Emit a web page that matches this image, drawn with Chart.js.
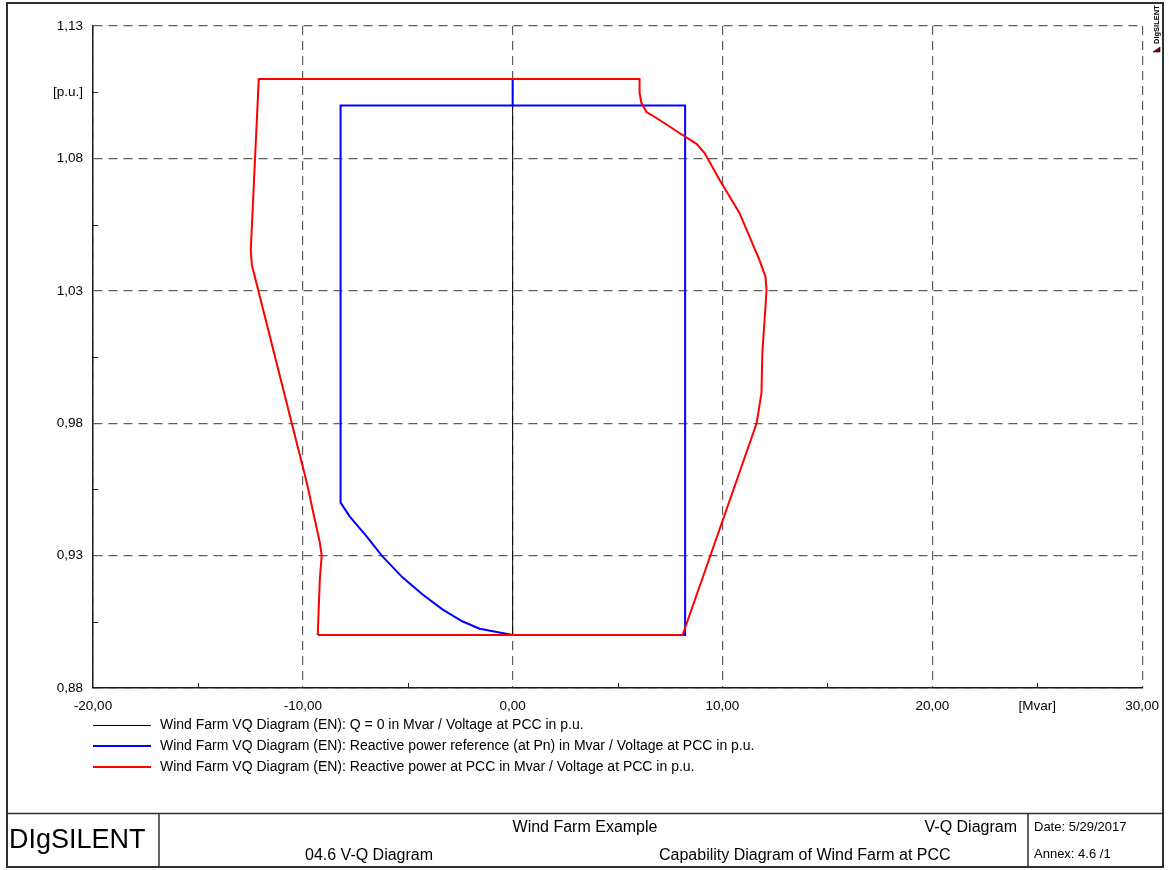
<!DOCTYPE html>
<html>
<head>
<meta charset="utf-8">
<title>V-Q Diagram</title>
<script src="https://cdn.jsdelivr.net/npm/chart.js@4/dist/chart.umd.min.js"></script>
<style>
  html, body { margin: 0; padding: 0; background: #ffffff; }
  #chart { display: block; }
</style>
</head>
<body>
<canvas id="chart" width="1169" height="870"></canvas>
<script>
// Axis ticks: Q [Mvar] on x, V [p.u.] on y
const qTicks = [-20, -15, -10, -5, 0, 5, 10, 15, 20, 25, 30];
const qMajor = [-20, -10, 0, 10, 20, 30];
const qUnitTick = 25;
const qUnitLabel = '[Mvar]';

const vTicks = [0.88, 0.905, 0.93, 0.955, 0.98, 1.005, 1.03, 1.055, 1.08, 1.105, 1.13];
const vMajor = [0.88, 0.93, 0.98, 1.03, 1.08, 1.13];
const vUnitTick = 1.105;
const vUnitLabel = '[p.u.]';

// Series 1: Q = 0 line
const zeroQ = [0, 0];
const zeroV = [0.90, 1.11];

// Series 2: reactive power reference (at Pn)
const refQ = [0, 0, 8.22, 8.22, 0, -1.57, -2.38, -3.33, -4.29, -5.24, -6.24, -6.95, -7.76, -8.2, -8.2, 0];
const refV = [1.11, 1.10, 1.10, 0.90, 0.90, 0.9024, 0.9051, 0.9096, 0.9153, 0.9217, 0.93, 0.9372, 0.9447, 0.95, 1.10, 1.10];

// Series 3: reactive power at PCC
const pccQ = [-9.29, -9.19, -9.10, -9.19, -9.43, -9.81, -12.43, -12.48, -12.10, 6.05, 6.05, 6.14, 6.38, 7.00, 7.95, 8.76, 9.14, 9.86, 10.81, 11.76, 12.05, 12.10, 12.05, 11.90, 11.86, 11.71, 11.62, 8.10, -9.29];
const pccV = [0.90, 0.921, 0.93, 0.935, 0.9436, 0.9575, 1.0398, 1.0455, 1.11, 1.11, 1.1047, 1.1009, 1.0975, 1.0945, 1.0896, 1.0855, 1.0821, 1.0719, 1.0594, 1.0417, 1.0353, 1.0304, 1.024, 1.0066, 0.9915, 0.984, 0.9798, 0.90, 0.90];

const seriesLabels = [
  'Wind Farm VQ Diagram (EN): Q = 0 in Mvar / Voltage at PCC in p.u.',
  'Wind Farm VQ Diagram (EN): Reactive power reference (at Pn) in Mvar / Voltage at PCC in p.u.',
  'Wind Farm VQ Diagram (EN): Reactive power at PCC in Mvar / Voltage at PCC in p.u.'
];

// Title block texts
const blockTexts = {
  company: 'DIgSILENT',
  project: 'Wind Farm Example',
  page: '04.6 V-Q Diagram',
  diagram: 'V-Q Diagram',
  caption: 'Capability Diagram of Wind Farm at PCC',
  date: 'Date: 5/29/2017',
  annex: 'Annex: 4.6 /1'
};

const FONT = "'Liberation Sans', Arial, sans-serif";
const near = (a, b) => Math.abs(a - b) < 1e-6;
const toPoints = (xs, ys) => xs.map((x, i) => ({ x: x, y: ys[i] }));
const fmt = v => v.toFixed(2).replace('.', ',');

function tickText(value, majors, unitTick, unitLabel) {
  if (majors.some(m => near(m, value))) return fmt(value);
  if (near(value, unitTick)) return unitLabel;
  return '';
}

// Short inward tick marks between the major grid lines
const minorTicksPlugin = {
  id: 'minorTicks',
  beforeDatasetsDraw(chart) {
    const { ctx, chartArea, scales } = chart;
    ctx.save();
    ctx.strokeStyle = '#222';
    ctx.lineWidth = 1;
    ctx.beginPath();
    qTicks.filter(v => !qMajor.some(m => near(m, v))).forEach(v => {
      const px = Math.round(scales.x.getPixelForValue(v)) + 0.5;
      ctx.moveTo(px, chartArea.bottom);
      ctx.lineTo(px, chartArea.bottom - 5);
    });
    vTicks.filter(v => !vMajor.some(m => near(m, v))).forEach(v => {
      const py = Math.round(scales.y.getPixelForValue(v)) + 0.5;
      ctx.moveTo(chartArea.left, py);
      ctx.lineTo(chartArea.left + 5, py);
    });
    ctx.stroke();
    ctx.restore();
  }
};

// Legend under the plot, frame and title block
const pageFramePlugin = {
  id: 'pageFrame',
  afterDraw(chart) {
    const { ctx, chartArea } = chart;
    ctx.save();

    // legend rows
    ctx.font = '14px ' + FONT;
    ctx.textBaseline = 'middle';
    ctx.textAlign = 'left';
    chart.data.datasets.forEach((ds, i) => {
      const y = Math.round(725 + i * 20.8);
      ctx.strokeStyle = ds.borderColor;
      ctx.lineWidth = ds.borderWidth;
      ctx.beginPath();
      ctx.moveTo(chartArea.left, ds.borderWidth === 1 ? y + 0.5 : y);
      ctx.lineTo(151, ds.borderWidth === 1 ? y + 0.5 : y);
      ctx.stroke();
      ctx.fillStyle = '#000';
      ctx.fillText(ds.label, 160, y);
    });

    // outer frame
    ctx.strokeStyle = '#303030';
    ctx.lineWidth = 2;
    ctx.strokeRect(7, 3, 1156, 864);

    // title block
    ctx.lineWidth = 1.5;
    ctx.beginPath();
    ctx.moveTo(7, 813.5); ctx.lineTo(1163, 813.5);
    ctx.moveTo(159, 813.5); ctx.lineTo(159, 867);
    ctx.moveTo(1028, 813.5); ctx.lineTo(1028, 867);
    ctx.stroke();

    ctx.fillStyle = '#000';
    ctx.textBaseline = 'middle';
    ctx.font = '27px ' + FONT;
    ctx.textAlign = 'left';
    ctx.fillText(blockTexts.company, 9, 841);

    ctx.font = '16px ' + FONT;
    ctx.textAlign = 'center';
    ctx.fillText(blockTexts.project, 585, 828);
    ctx.textAlign = 'left';
    ctx.fillText(blockTexts.page, 305, 855.5);
    ctx.fillText(blockTexts.caption, 659, 855.5);
    ctx.textAlign = 'right';
    ctx.fillText(blockTexts.diagram, 1017, 828);

    ctx.font = '13px ' + FONT;
    ctx.textAlign = 'left';
    ctx.fillText(blockTexts.date, 1034, 827.5);
    ctx.fillText(blockTexts.annex, 1034, 854);

    // small rotated mark in the top right corner
    ctx.save();
    ctx.translate(1157, 44);
    ctx.rotate(-Math.PI / 2);
    ctx.font = 'bold 7.5px ' + FONT;
    ctx.textAlign = 'left';
    ctx.fillText(blockTexts.company, 0, 0);
    ctx.restore();
    ctx.beginPath();
    ctx.moveTo(1153, 52); ctx.lineTo(1160, 47); ctx.lineTo(1160, 52); ctx.closePath();
    ctx.fillStyle = '#8a0000';
    ctx.fill();
    ctx.strokeStyle = '#000';
    ctx.lineWidth = 0.6;
    ctx.stroke();

    ctx.restore();
  }
};

const gridColor = (majors) => (c) =>
  (c.tick && majors.some(m => near(m, c.tick.value))) ? '#5e5e5e' : 'rgba(0,0,0,0)';

new Chart(document.getElementById('chart'), {
  type: 'scatter',
  data: {
    datasets: [
      { label: seriesLabels[0], data: toPoints(zeroQ, zeroV), borderColor: '#000000', borderWidth: 1, order: 3 },
      { label: seriesLabels[1], data: toPoints(refQ, refV), borderColor: '#0000ff', borderWidth: 2, order: 2 },
      { label: seriesLabels[2], data: toPoints(pccQ, pccV), borderColor: '#ff0000', borderWidth: 2, order: 1 }
    ].map(ds => Object.assign(ds, {
      showLine: true, fill: false, tension: 0, pointRadius: 0, pointHoverRadius: 0,
      backgroundColor: ds.borderColor
    }))
  },
  options: {
    responsive: false,
    devicePixelRatio: 1,
    animation: false,
    events: [],
    layout: { padding: { left: 0, top: 26, right: 26, bottom: 0 } },
    plugins: { legend: { display: false }, tooltip: { enabled: false } },
    scales: {
      x: {
        type: 'linear',
        min: -20, max: 30,
        afterBuildTicks: s => { s.ticks = qTicks.map(v => ({ value: v })); },
        afterFit: s => { s.height = 182; },
        grid: { color: gridColor(qMajor), lineWidth: 1.2, drawTicks: false },
        border: { display: true, color: '#1a1a1a', width: 1.5, dash: [9, 6] },
        ticks: {
          padding: 10,
          color: '#000',
          font: { family: FONT, size: 13.5 },
          maxRotation: 0, autoSkip: false,
          callback: v => tickText(v, qMajor, qUnitTick, qUnitLabel)
        }
      },
      y: {
        type: 'linear',
        min: 0.88, max: 1.13,
        afterBuildTicks: s => { s.ticks = vTicks.map(v => ({ value: v })); },
        afterFit: s => { s.width = 93; },
        grid: { color: gridColor(vMajor), lineWidth: 1.2, drawTicks: false },
        border: { display: true, color: '#1a1a1a', width: 1.5, dash: [9, 6] },
        ticks: {
          padding: 10,
          color: '#000',
          font: { family: FONT, size: 13.5 },
          autoSkip: false,
          callback: v => tickText(v, vMajor, vUnitTick, vUnitLabel)
        }
      }
    }
  },
  plugins: [minorTicksPlugin, pageFramePlugin]
});
</script>
</body>
</html>
